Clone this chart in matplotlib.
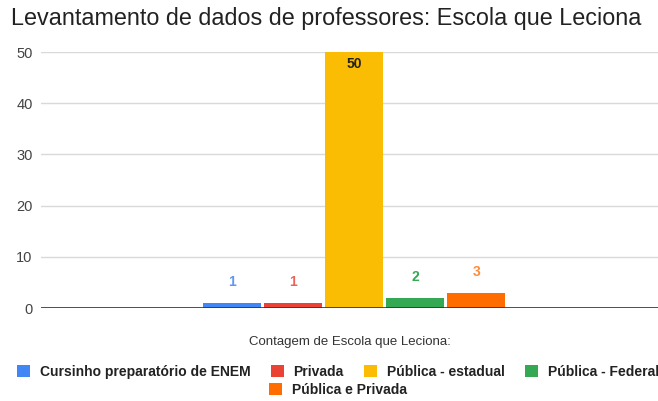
import matplotlib.pyplot as plt
import numpy as np

plt.rcParams["font.family"] = ["Liberation Sans", "DejaVu Sans"]

TITLE = "Levantamento de dados de professores: Escola que Leciona"
XLABEL = "Contagem de Escola que Leciona:"
categories = [
    "Cursinho preparatório de ENEM",
    "Privada",
    "Pública - estadual",
    "Pública - Federal",
    "Pública e Privada",
]
counts = [1, 1, 50, 2, 3]
colors = ["#4285F4", "#EA4335", "#FBBC04", "#34A853", "#FF6D01"]
label_colors = ["#5F97F6", "#EE6359", "#222222", "#34A853", "#FF8A3A"]
yticks = [0, 10, 20, 30, 40, 50]


def main() -> None:
    fig = plt.figure(figsize=(6.58, 4.01), dpi=100)
    ax = fig.add_axes([41 / 658, 1 - 308 / 401, 1 - 41 / 658, 256 / 401])

    x = np.arange(len(categories))
    handles = []
    for i, (cat, val, col) in enumerate(zip(categories, counts, colors)):
        bars = ax.bar(x[i], val, width=0.95, color=col, label=cat, zorder=3)
        handles.append(bars)
        # labels go inside tall bars, above short ones
        dy = -9 if val >= 10 else 15
        ax.annotate(str(val), (x[i], val), xytext=(0, dy), textcoords="offset points",
                    ha="center", va="center", fontsize=10, fontweight="bold",
                    color=label_colors[i], zorder=4)

    ax.set_xlim(-3.13, 6.98)
    ax.set_ylim(0, 50)
    ax.set_yticks(yticks)
    ax.set_xticks([])
    ax.grid(axis="y", color="#D9D9D9", linewidth=1.0, zorder=0)
    ax.axhline(0, color="#333333", linewidth=1.2, zorder=5)
    for s in ax.spines.values():
        s.set_visible(False)
    ax.tick_params(axis="y", length=0, pad=6, labelsize=10.5, labelcolor="#444444")

    fig.text(11 / 658, 1 - 19 / 401, TITLE, fontsize=16.8, color="#222222",
             ha="left", va="center")
    fig.text(350 / 658, 1 - 342 / 401, XLABEL, fontsize=9.5, color="#333333",
             ha="center", va="center")

    # the first legend row runs past the right edge, as in the source chart
    leg_kw = dict(frameon=False, handlelength=0.95, handleheight=0.95,
                  handletextpad=0.7, columnspacing=1.45, borderpad=0, borderaxespad=0,
                  prop={"weight": "bold", "size": 10})
    leg1 = fig.legend(handles[:4], categories[:4], ncol=4, loc="center left",
                      bbox_to_anchor=(17 / 658, 1 - 372 / 401), **leg_kw)
    leg2 = fig.legend(handles[4:], categories[4:], ncol=1, loc="center left",
                      bbox_to_anchor=(269 / 658, 1 - 390 / 401), **leg_kw)
    for leg in (leg1, leg2):
        for t in leg.get_texts():
            t.set_color("#222222")

    fig.savefig("out.png", dpi=100)
    plt.close(fig)


if __name__ == "__main__":
    main()
